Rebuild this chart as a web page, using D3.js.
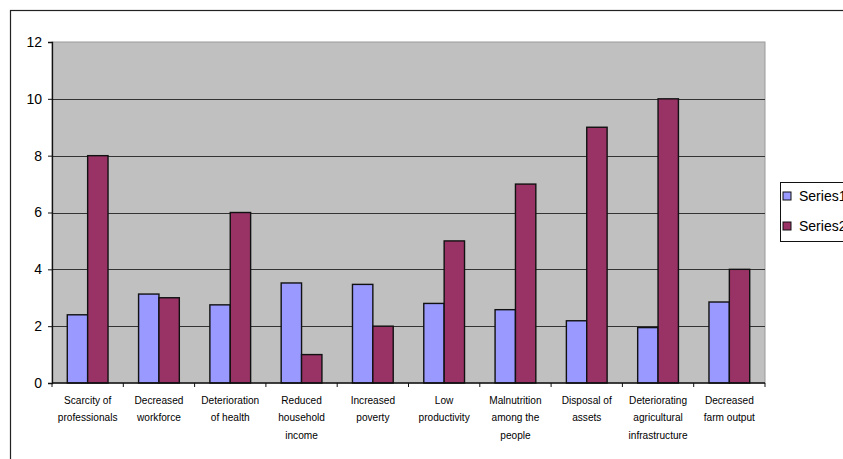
<!DOCTYPE html>
<html>
<head>
<meta charset="utf-8">
<script src="https://cdn.jsdelivr.net/npm/d3@7"></script>
<style>
  body { margin: 0; background: #fff; }
  text { font-family: "Liberation Sans", Arial, sans-serif; fill: #000; }
</style>
</head>
<body>
<div id="plot"></div>
<script>
const categories = [
  ["Scarcity of", "professionals"],
  ["Decreased", "workforce"],
  ["Deterioration", "of health"],
  ["Reduced", "household", "income"],
  ["Increased", "poverty"],
  ["Low", "productivity"],
  ["Malnutrition", "among the", "people"],
  ["Disposal of", "assets"],
  ["Deteriorating", "agricultural", "infrastructure"],
  ["Decreased", "farm output"]
];
const series1 = [2.4, 3.13, 2.75, 3.52, 3.47, 2.8, 2.58, 2.19, 1.95, 2.85];
const series2 = [8, 3, 6, 1, 2, 5, 7, 9, 10, 4];
const seriesNames = ["Series1", "Series2"];
const yTicks = [0, 2, 4, 6, 8, 10, 12];

const width = 843, height = 459;
const plot = { left: 52, top: 42, right: 765, bottom: 383 };
const colors = ["#9999FF", "#993366"];

const svg = d3.select("div#plot")
  .append("svg")
  .attr("width", width)
  .attr("height", height);

// outer chart border
svg.append("rect")
  .attr("x", 10.5).attr("y", 10.5)
  .attr("width", 900).attr("height", 500)
  .attr("fill", "none")
  .attr("stroke", "#222")
  .attr("stroke-width", 1.2);

// gap width 150% like excel
const x = d3.scaleBand()
  .domain(d3.range(categories.length))
  .range([plot.left, plot.right])
  .paddingInner(1.5 / 3.5)
  .paddingOuter(0.75 / 3.5);

// used for the tick marks between categories
const xCat = d3.scaleBand()
  .domain(d3.range(categories.length))
  .range([plot.left, plot.right]);

const xSub = d3.scaleBand()
  .domain([0, 1])
  .range([0, x.bandwidth()]);

const y = d3.scaleLinear()
  .domain([0, 12])
  .range([plot.bottom, plot.top]);

svg.append("rect")
  .attr("x", plot.left).attr("y", plot.top)
  .attr("width", plot.right - plot.left)
  .attr("height", plot.bottom - plot.top)
  .attr("fill", "#C0C0C0")
  .attr("stroke", "#9a9a9a");

// gridlines
svg.selectAll(".grid")
  .data(yTicks.filter(d => d > 0 && d < 12))
  .join("line")
  .attr("class", "grid")
  .attr("x1", plot.left).attr("x2", plot.right)
  .attr("y1", d => Math.round(y(d)) + 0.5)
  .attr("y2", d => Math.round(y(d)) + 0.5)
  .attr("stroke", "#333")
  .attr("stroke-width", 1);

// bars
const groups = svg.selectAll(".grp")
  .data(categories.map((c, i) => [series1[i], series2[i]]))
  .join("g")
  .attr("class", "grp")
  .attr("transform", (d, i) => `translate(${x(i)},0)`);

groups.selectAll("rect")
  .data(d => d)
  .join("rect")
  .attr("x", (d, j) => xSub(j))
  .attr("y", d => y(d))
  .attr("width", xSub.bandwidth())
  .attr("height", d => plot.bottom - y(d))
  .attr("fill", (d, j) => colors[j])
  .attr("stroke", "#111")
  .attr("stroke-width", 1.4);

// y axis
const yAxis = svg.append("g")
  .attr("transform", `translate(${plot.left},0)`)
  .call(d3.axisLeft(y).tickValues(yTicks).tickSize(4).tickPadding(6));
yAxis.select(".domain").attr("stroke", "#111").attr("stroke-width", 1.3);
yAxis.selectAll(".tick line").attr("stroke", "#111");
yAxis.selectAll("text")
  .style("font-size", "14px")
  .style("font-family", "Liberation Sans, Arial, sans-serif");

// x axis
svg.append("line")
  .attr("x1", plot.left).attr("x2", plot.right)
  .attr("y1", plot.bottom).attr("y2", plot.bottom)
  .attr("stroke", "#111").attr("stroke-width", 1.3);

svg.selectAll(".xtick")
  .data(d3.range(categories.length + 1))
  .join("line")
  .attr("class", "xtick")
  .attr("x1", d => plot.left + d * xCat.step())
  .attr("x2", d => plot.left + d * xCat.step())
  .attr("y1", plot.bottom).attr("y2", plot.bottom + 4)
  .attr("stroke", "#111");

const labels = svg.selectAll(".xlab")
  .data(categories)
  .join("text")
  .attr("class", "xlab")
  .attr("text-anchor", "middle")
  .style("font-size", "11.5px")
  .attr("transform", (d, i) => `translate(${xCat(i) + xCat.bandwidth() / 2},404) scale(0.88,1)`);

labels.selectAll("tspan")
  .data(d => d)
  .join("tspan")
  .attr("x", 0)
  .attr("y", (d, k) => k * 17.5)
  .text(d => d);

// legend
const legend = svg.append("g").attr("transform", "translate(780,182)");
legend.append("rect")
  .attr("x", 0.5).attr("y", 0.5)
  .attr("width", 100).attr("height", 59)
  .attr("fill", "#fff")
  .attr("stroke", "#111");

const items = legend.selectAll(".item")
  .data(seriesNames)
  .join("g")
  .attr("class", "item")
  .attr("transform", (d, i) => `translate(3,${10 + i * 30})`);

items.append("rect")
  .attr("width", 8).attr("height", 8)
  .attr("fill", (d, i) => colors[i])
  .attr("stroke", "#111");

items.append("text")
  .attr("x", 16).attr("y", 9)
  .style("font-size", "14px")
  .text(d => d);
</script>
</body>
</html>
